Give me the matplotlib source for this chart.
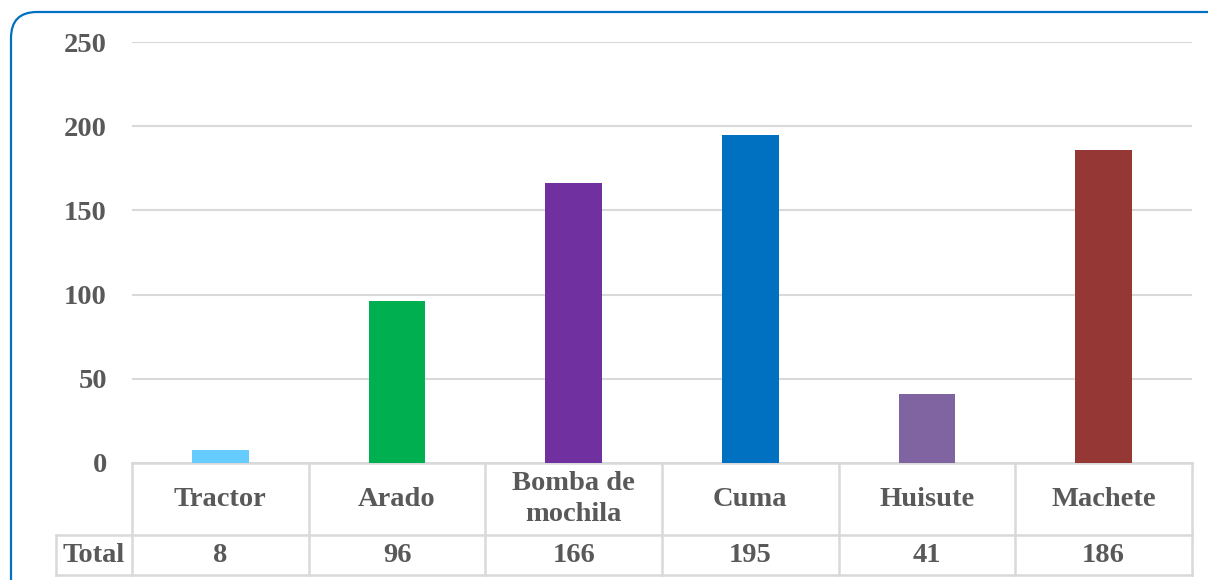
import matplotlib.pyplot as plt
import matplotlib.patches as mpatches
import matplotlib.transforms as mtransforms
from matplotlib.lines import Line2D

categories = ['Tractor', 'Arado', 'Bomba de\nmochila', 'Cuma', 'Huisute', 'Machete']
totals = [8, 96, 166, 195, 41, 186]
colors = ['#66CCFF', '#00B050', '#7030A0', '#0070C0', '#8064A2', '#953735']
yticks = [0, 50, 100, 150, 200, 250]

plt.rcParams['font.family'] = ['Liberation Serif', 'DejaVu Serif']
txt_color = '#595959'
grid_color = '#D9D9D9'
fs = 20.5

W, H = 1208, 580
fig = plt.figure(figsize=(W / 100, H / 100), dpi=100)
ax = fig.add_axes([132 / W, 1 - 463 / H, (1192 - 132) / W, (463 - 42) / H])

x = list(range(len(categories)))
ax.bar(x, totals, width=0.32, color=colors, zorder=3)
ax.set_xlim(-0.5, len(categories) - 0.5)
ax.set_ylim(0, 250)
ax.set_yticks(yticks)
ax.set_yticklabels([str(t) for t in yticks], fontsize=fs, fontweight='bold', color=txt_color)
ax.tick_params(axis='y', length=0, pad=18)
ax.set_xticks([])
for s in ax.spines.values():
    s.set_visible(False)
ax.yaxis.grid(True, color=grid_color, linewidth=1.5, zorder=0)

# data table below the axes
ax_h = 463 - 42
y_hdr = -72 / ax_h
y_tot = -112 / ax_h
x_lab = -(132 - 56) / (1192 - 132)
lw = 1.8
trans = mtransforms.blended_transform_factory(ax.transData, ax.transAxes)
tax = ax.transAxes

def hline(x0, x1, y, tr):
    ax.add_line(Line2D([x0, x1], [y, y], transform=tr, color=grid_color, lw=lw, clip_on=False))

def vline(xx, y0, y1, tr):
    ax.add_line(Line2D([xx, xx], [y0, y1], transform=tr, color=grid_color, lw=lw, clip_on=False))

hline(0, 1, 0, tax)
hline(x_lab, 1, y_hdr, tax)
hline(x_lab, 1, y_tot, tax)
vline(x_lab, y_hdr, y_tot, tax)
for i in range(len(categories) + 1):
    vline(i - 0.5, 0, y_tot, trans)

for i, (c, v) in enumerate(zip(categories, totals)):
    ax.text(i, y_hdr / 2, c, transform=trans, ha='center', va='center', fontsize=fs,
            fontweight='bold', color=txt_color, linespacing=1.3)
    ax.text(i, (y_hdr + y_tot) / 2, str(v), transform=trans, ha='center', va='center',
            fontsize=fs, fontweight='bold', color=txt_color)
ax.text(x_lab / 2, (y_hdr + y_tot) / 2, 'Total', transform=tax, ha='center', va='center',
        fontsize=fs, fontweight='bold', color=txt_color)

# rounded border of the chart area
border = mpatches.FancyBboxPatch((11, -40), 1260, H - 12 + 40,
                                 boxstyle='round,pad=0,rounding_size=26',
                                 transform=mtransforms.IdentityTransform(),
                                 fill=False, edgecolor='#0070C0', linewidth=1.6)
fig.patches.append(border)

fig.savefig('out.png', dpi=100)
